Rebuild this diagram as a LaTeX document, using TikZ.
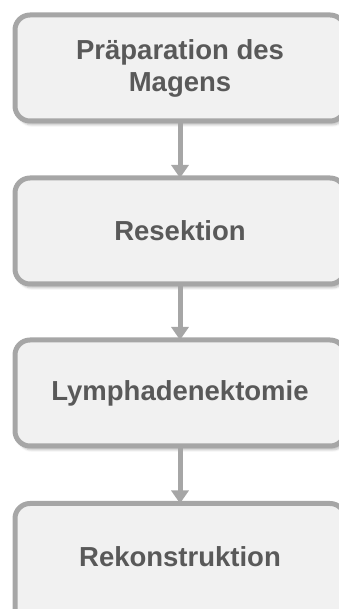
\documentclass[tikz,border=0pt]{standalone}
\usepackage{fontspec}
\setmainfont{Liberation Sans}
\usetikzlibrary{arrows.meta,shadows.blur}
\definecolor{boxfill}{HTML}{F1F1F1}
\definecolor{boxline}{HTML}{A6A6A6}
\definecolor{txt}{HTML}{595959}
\tikzset{
  stepbox/.style={draw=boxline, fill=boxfill, line width=5pt, rounded corners=15pt,
    minimum width=330pt, minimum height=106pt, outer sep=0pt, inner sep=0pt,
    align=center, text=txt, font=\bfseries\fontsize{27.5}{32}\selectfont,
    blur shadow={shadow xshift=2pt, shadow yshift=-4pt, shadow blur steps=6, shadow opacity=25}},
  steptext/.style={align=center, text=txt, font=\bfseries\fontsize{27.5}{32}\selectfont, inner sep=0pt},
  flow/.style={draw=boxline, line width=5pt, -{Triangle[width=17pt,length=13pt]}}
}
\begin{document}
\begin{tikzpicture}[x=1pt,y=1pt]
\useasboundingbox (0,0) rectangle (338,609);
\node[stepbox] (a) at (180,541) {Präparation des\\Magens};
\node[stepbox] (b) at (180,378) {Resektion};
\node[stepbox] (c) at (180,216) {Lymphadenektomie};
\node[stepbox, minimum height=140pt, anchor=north] (d) at (180,105.5) {};
\node[steptext] (dt) at (180,52) {Rekonstruktion};
\draw[flow] (a.south) -- (b.north);
\draw[flow] (b.south) -- (c.north);
\draw[flow] (c.south) -- (d.north);
\end{tikzpicture}
\end{document}
